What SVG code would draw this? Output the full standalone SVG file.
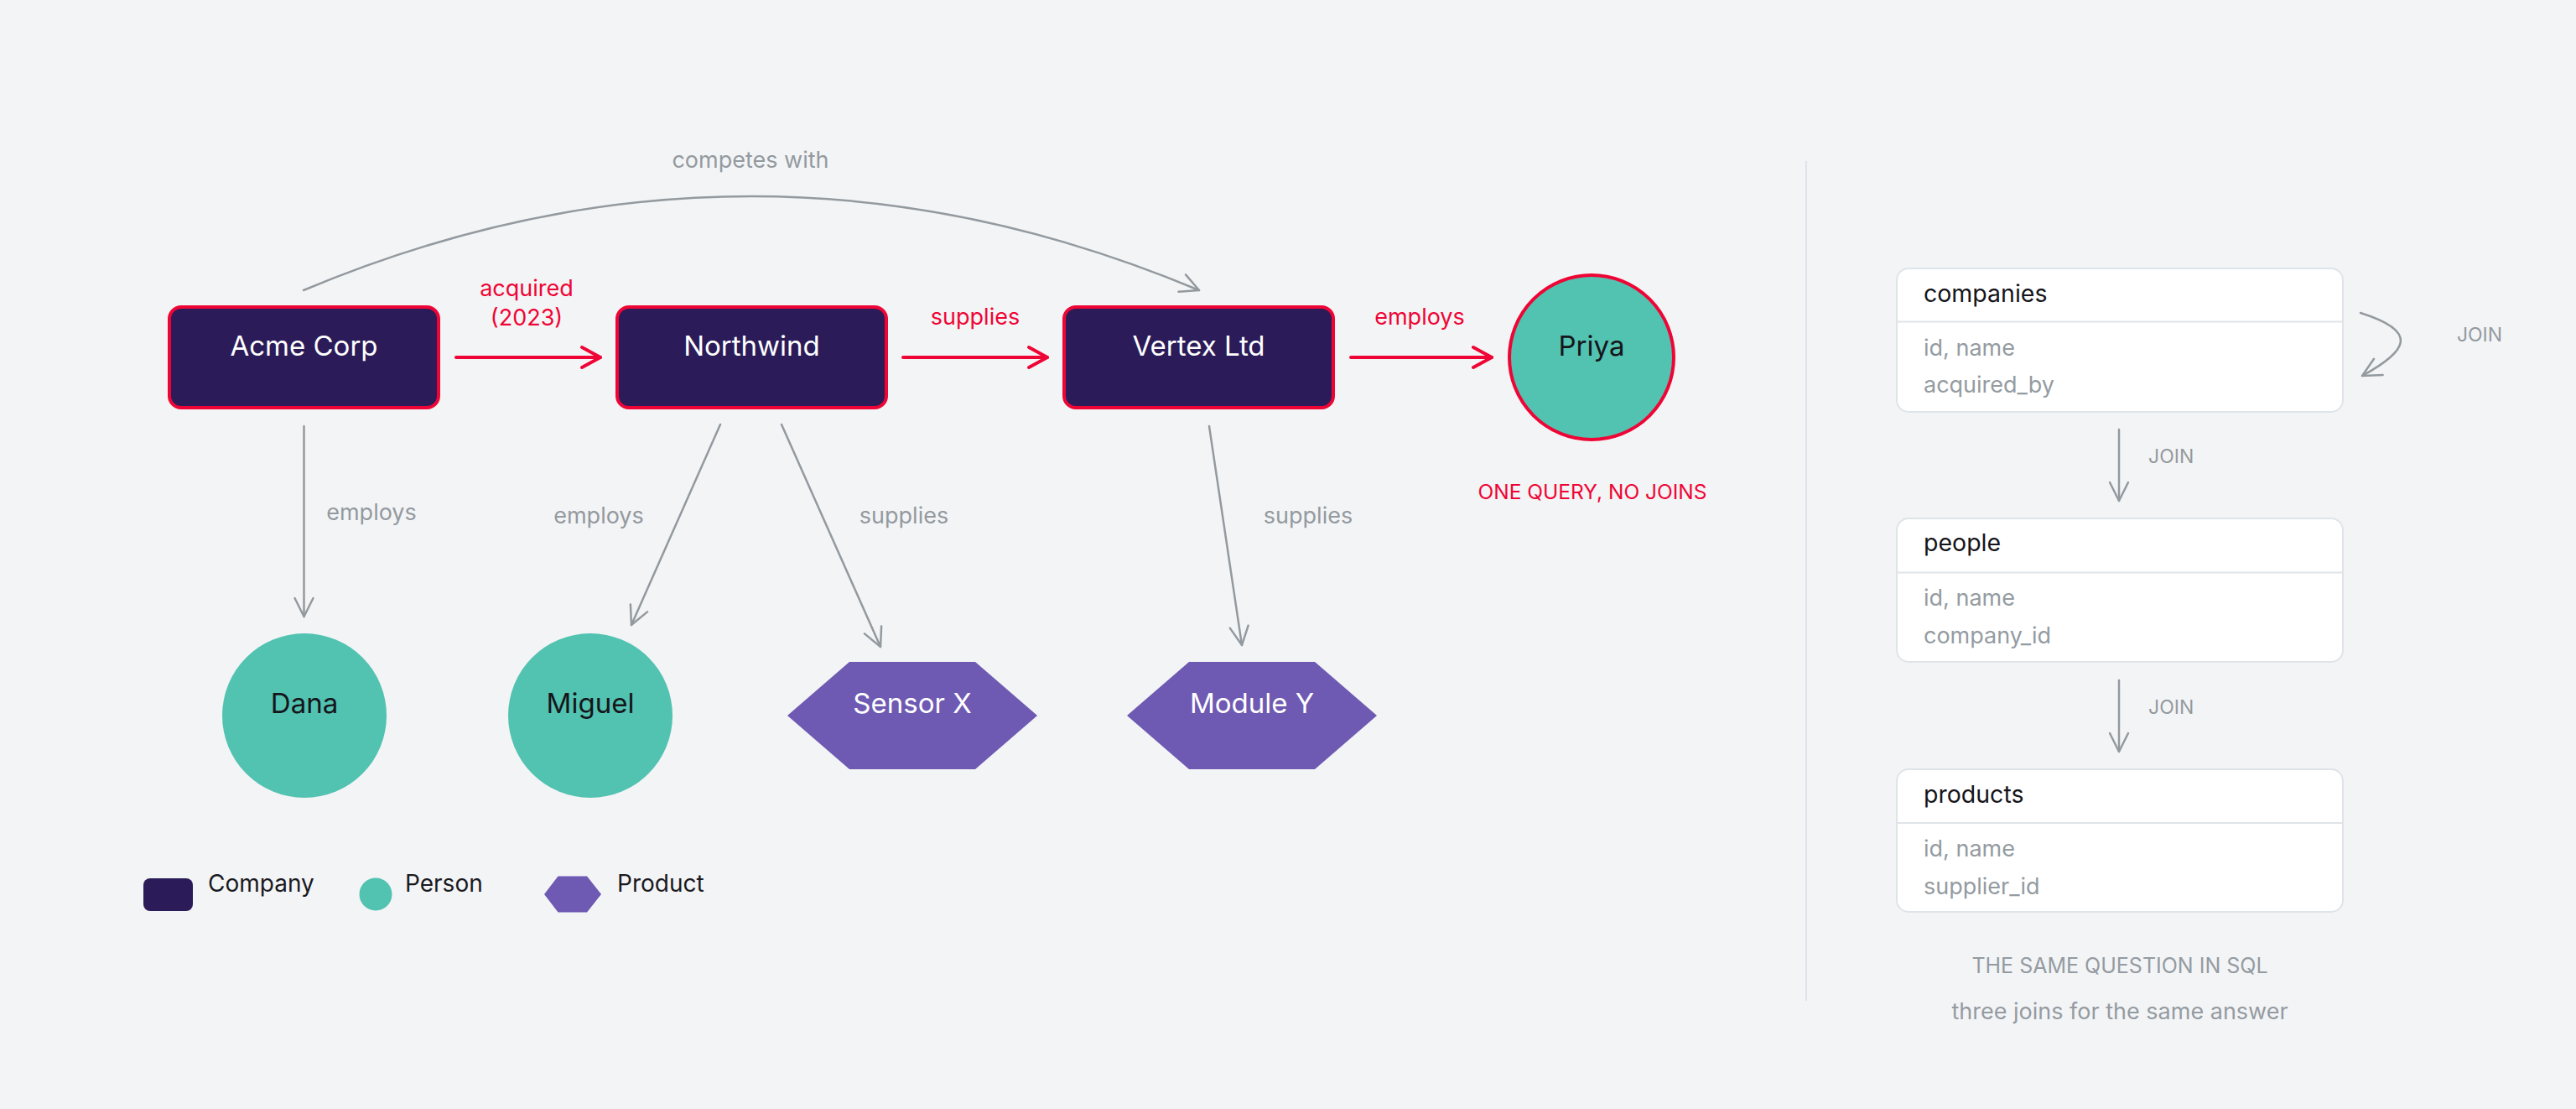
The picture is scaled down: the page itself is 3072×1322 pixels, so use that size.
<svg xmlns="http://www.w3.org/2000/svg" width="3072" height="1322" viewBox="0 0 3072 1322">
<defs>
<style>
text{font-family:Inter,"Noto Sans","Liberation Sans",sans-serif}
.company{fill:#2b1c59;stroke:#ef0535;stroke-width:4}
.person{fill:#52c2b1}
.product{fill:#6e59b3}
.ntw{fill:#ffffff;font-size:33px;text-anchor:middle}
.ntd{fill:#15151a;font-size:33px;text-anchor:middle}
.red{stroke:#ef0535;stroke-width:4;fill:none;stroke-linecap:round}
.gray{stroke:#939a9f;stroke-width:2.5;fill:none;stroke-linecap:round}
.lr{fill:#ef0535;font-size:27px;text-anchor:middle}
.lg{fill:#939a9f;font-size:27px;text-anchor:middle}
.tbl{fill:#ffffff;stroke:#dfe4e8;stroke-width:2}
.th{fill:#15151a;font-size:28.5px}
.tf{fill:#949ba1;font-size:27px}
.leg{fill:#1a1a1f;font-size:28px}
</style>
<marker id="ar" markerUnits="userSpaceOnUse" markerWidth="40" markerHeight="40" refX="0" refY="0" viewBox="-30 -20 40 40" orient="auto" overflow="visible">
<path d="M-22 -12 L0 0 L-22 12" fill="none" stroke="#ef0535" stroke-width="4" stroke-linecap="round" stroke-linejoin="round"/>
</marker>
<marker id="ag" markerUnits="userSpaceOnUse" markerWidth="40" markerHeight="40" refX="0" refY="0" viewBox="-30 -20 40 40" orient="auto" overflow="visible">
<path d="M-22 -11 L0 0 L-22 11" fill="none" stroke="#939a9f" stroke-width="2.5" stroke-linecap="round" stroke-linejoin="round"/>
</marker>
</defs>
<rect width="3072" height="1322" fill="#f3f4f6"/>

<g id="connectors">
<path class="gray" d="M362 346 Q896 122 1430 346" marker-end="url(#ag)"/>
<path class="red" d="M544 426 L716 426" marker-end="url(#ar)"/>
<path class="red" d="M1077 426 L1249 426" marker-end="url(#ar)"/>
<path class="red" d="M1611 426 L1779 426" marker-end="url(#ar)"/>
<path class="gray" d="M362.5 508 L362.5 735" marker-end="url(#ag)"/>
<path class="gray" d="M859 506 L753 745" marker-end="url(#ag)"/>
<path class="gray" d="M932 506 L1050 771" marker-end="url(#ag)"/>
<path class="gray" d="M1442 508 L1481 769" marker-end="url(#ag)"/>
<text class="lg" x="895" y="200">competes with</text>
<text class="lr" x="628" y="353">acquired</text>
<text class="lr" x="628" y="388">(2023)</text>
<text class="lr" x="1163" y="387">supplies</text>
<text class="lr" x="1693" y="387">employs</text>
<text class="lg" x="443" y="620">employs</text>
<text class="lg" x="714" y="624">employs</text>
<text class="lg" x="1078" y="624">supplies</text>
<text class="lg" x="1560" y="624">supplies</text>
</g>

<g id="node-acme"><rect class="company" x="202" y="366" width="321" height="120" rx="14"/><text class="ntw" x="362.5" y="424">Acme Corp</text></g>
<g id="node-northwind"><rect class="company" x="736" y="366" width="321" height="120" rx="14"/><text class="ntw" x="896.5" y="424">Northwind</text></g>
<g id="node-vertex"><rect class="company" x="1269" y="366" width="321" height="120" rx="14"/><text class="ntw" x="1429.5" y="424">Vertex Ltd</text></g>
<g id="node-priya"><circle cx="1898" cy="426" r="98" fill="#52c2b1" stroke="#ef0535" stroke-width="4"/><text class="ntd" x="1898" y="424">Priya</text></g>
<text x="1899" y="595" fill="#ef0535" font-size="24.5" text-anchor="middle">ONE QUERY, NO JOINS</text>
<g id="node-dana"><circle class="person" cx="363" cy="853" r="98"/><text class="ntd" x="363" y="850">Dana</text></g>
<g id="node-miguel"><circle class="person" cx="704" cy="853" r="98"/><text class="ntd" x="704" y="850">Miguel</text></g>
<g id="node-sensor"><polygon class="product" points="939,853 1013,789 1163,789 1237,853 1163,917 1013,917"/><text class="ntw" x="1088" y="850">Sensor X</text></g>
<g id="node-module"><polygon class="product" points="1344,853 1418,789 1568,789 1642,853 1568,917 1418,917"/><text class="ntw" x="1493" y="850">Module Y</text></g>

<g id="legend">
<rect x="171" y="1047" width="59" height="39" rx="8" fill="#2b1c59"/>
<text class="leg" x="248" y="1063">Company</text>
<circle cx="448" cy="1066" r="19.5" fill="#52c2b1"/>
<text class="leg" x="483" y="1063">Person</text>
<polygon points="649,1066 665.5,1044.5 700,1044.5 717,1066 700,1087.5 665.5,1087.5" fill="#6e59b3"/>
<text class="leg" x="736" y="1063">Product</text>
</g>

<line x1="2154" y1="192" x2="2154" y2="1193" stroke="#dde3e8" stroke-width="2"/>

<g id="sql-connectors">
<path class="gray" d="M2815 373 C2885 395 2872 418 2817 448" marker-end="url(#ag)"/>
<path class="gray" d="M2527 512 L2527 597" marker-end="url(#ag)"/>
<path class="gray" d="M2527 811 L2527 896" marker-end="url(#ag)"/>
<text x="2957" y="407" fill="#939a9f" font-size="23" text-anchor="middle">JOIN</text>
<text x="2562" y="552" fill="#939a9f" font-size="23">JOIN</text>
<text x="2562" y="851" fill="#939a9f" font-size="23">JOIN</text>
</g>

<g id="table-companies">
<rect class="tbl" x="2262" y="320" width="532" height="171" rx="14"/>
<line x1="2263" y1="383.5" x2="2793" y2="383.5" stroke="#dfe4e8" stroke-width="2"/>
<text class="th" x="2294" y="360">companies</text>
<text class="tf" x="2294" y="424">id, name</text>
<text class="tf" x="2294" y="468">acquired_by</text>
</g>
<g id="table-people">
<rect class="tbl" x="2262" y="618" width="532" height="171" rx="14"/>
<line x1="2263" y1="682.5" x2="2793" y2="682.5" stroke="#dfe4e8" stroke-width="2"/>
<text class="th" x="2294" y="657">people</text>
<text class="tf" x="2294" y="722">id, name</text>
<text class="tf" x="2294" y="767">company_id</text>
</g>
<g id="table-products">
<rect class="tbl" x="2262" y="917" width="532" height="170" rx="14"/>
<line x1="2263" y1="981" x2="2793" y2="981" stroke="#dfe4e8" stroke-width="2"/>
<text class="th" x="2294" y="957">products</text>
<text class="tf" x="2294" y="1021">id, name</text>
<text class="tf" x="2294" y="1066">supplier_id</text>
</g>
<text x="2528" y="1160" fill="#949ba1" font-size="25" text-anchor="middle">THE SAME QUESTION IN SQL</text>
<text x="2528" y="1215" fill="#949ba1" font-size="27" text-anchor="middle">three joins for the same answer</text>
</svg>
